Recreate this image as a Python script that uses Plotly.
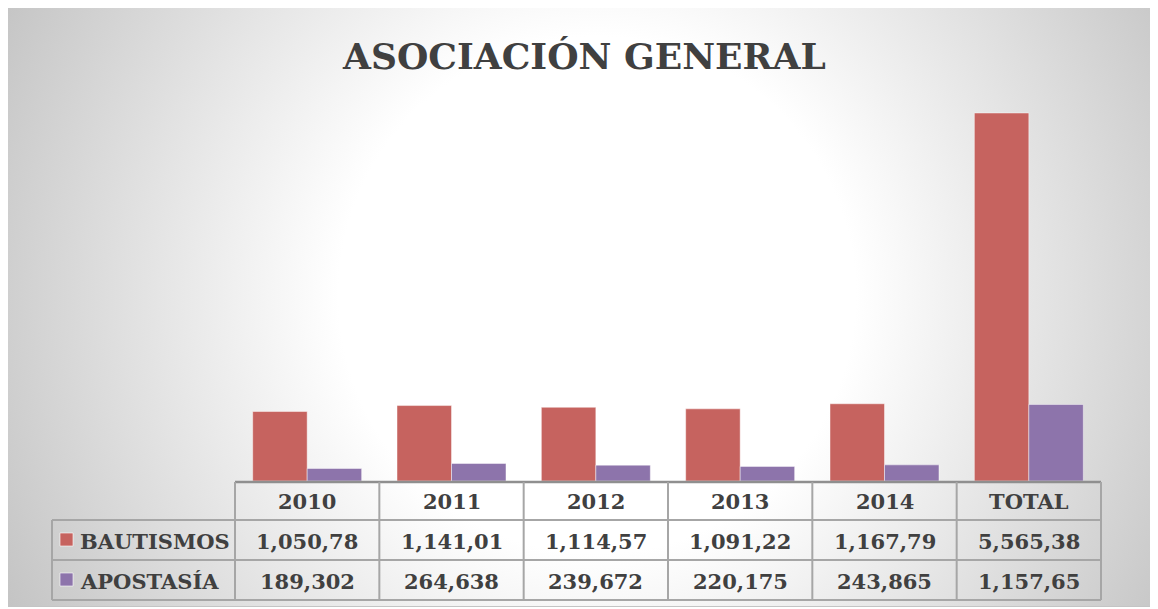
import base64
import plotly.graph_objects as go

# ---- data ----
categories = ["2010", "2011", "2012", "2013", "2014", "TOTAL"]
bautismos = [1050.78, 1141.01, 1114.57, 1091.22, 1167.79, 5565.38]
apostasia = [189.302, 264.638, 239.672, 220.175, 243.865, 1157.65]
bautismos_labels = ["1,050,78", "1,141,01", "1,114,57", "1,091,22", "1,167,79", "5,565,38"]
apostasia_labels = ["189,302", "264,638", "239,672", "220,175", "243,865", "1,157,65"]
series_names = ["BAUTISMOS", "APOSTASÍA"]
title_text = "ASOCIACIÓN GENERAL"

RED = "#C6635F"
PURPLE = "#8D74AB"
TXT = "#404040"
FONT = "DejaVu Serif"

OFF = 8  # page body margin
W, H = 1158 - OFF, 609 - OFF
L, R, T, B = 235, 1101, 100, 481  # plot area in page pixels

def px(x):
    return (x - L) / (R - L)

def py(y):
    return (B - y) / (B - T)

fig = go.Figure()
fig.add_trace(go.Bar(x=categories, y=bautismos, name=series_names[0],
                     marker=dict(color=RED, line=dict(color="rgba(255,255,255,0.45)", width=1))))
fig.add_trace(go.Bar(x=categories, y=apostasia, name=series_names[1],
                     marker=dict(color=PURPLE, line=dict(color="rgba(255,255,255,0.45)", width=1))))

# background radial gradient (as svg image)
bw, bh = 1151, 602
svg = (f'<svg xmlns="http://www.w3.org/2000/svg" width="{bw}" height="{bh}">'
       '<defs><radialGradient id="g" gradientUnits="userSpaceOnUse" cx="590" cy="290" r="680">'
       '<stop offset="0" stop-color="#ffffff"/><stop offset="0.38" stop-color="#ffffff"/>'
       '<stop offset="1" stop-color="#c2c2c2"/></radialGradient></defs>'
       f'<rect x="0.5" y="0.5" width="{bw-1}" height="{bh-1}" fill="url(#g)" stroke="#c4c4c4" stroke-width="1"/></svg>')
src = "data:image/svg+xml;base64," + base64.b64encode(svg.encode()).decode()
images = [dict(source=src, xref="paper", yref="paper", x=px(7), y=py(5),
               sizex=px(7 + bw) - px(7), sizey=py(5) - py(5 + bh),
               xanchor="left", yanchor="top", sizing="stretch", layer="below")]

shapes = []
LINE = dict(color="#a6a6a6", width=2)
col_edges = [L + i * (R - L) / len(categories) for i in range(len(categories) + 1)]
row_y = [482, 520, 560, 600]
shapes.append(dict(type="line", xref="paper", yref="paper", x0=px(L), x1=px(R), y0=py(482), y1=py(482),
                   line=dict(color="#8f8f8f", width=2.5)))
for yy in row_y[1:]:
    shapes.append(dict(type="line", xref="paper", yref="paper", x0=px(52), x1=px(R), y0=py(yy), y1=py(yy), line=LINE))
for xe in col_edges:
    shapes.append(dict(type="line", xref="paper", yref="paper", x0=px(xe), x1=px(xe), y0=py(482), y1=py(600), line=LINE))
shapes.append(dict(type="line", xref="paper", yref="paper", x0=px(52), x1=px(52), y0=py(520), y1=py(600), line=LINE))
for (y0, col) in [(533, RED), (573, PURPLE)]:
    shapes.append(dict(type="rect", xref="paper", yref="paper", x0=px(60), x1=px(73), y0=py(y0), y1=py(y0 + 13),
                       fillcolor=col, line=dict(color="rgba(255,255,255,0.6)", width=1)))

annotations = [dict(text=title_text, xref="paper", yref="paper", x=px(584), y=py(56), showarrow=False,
                    font=dict(family=FONT, size=36, color=TXT, weight="bold"), xanchor="center", yanchor="middle")]
for i, c in enumerate(categories):
    cx = px((col_edges[i] + col_edges[i + 1]) / 2)
    for yy, txt in [(501, c), (541, bautismos_labels[i]), (581, apostasia_labels[i])]:
        annotations.append(dict(text=txt, xref="paper", yref="paper", x=cx, y=py(yy), showarrow=False,
                                font=dict(family=FONT, size=21, color=TXT, weight="bold"),
                                xanchor="center", yanchor="middle"))
for yy, name in [(541, series_names[0]), (581, series_names[1])]:
    annotations.append(dict(text=name, xref="paper", yref="paper", x=px(78), y=py(yy), showarrow=False,
                            font=dict(family=FONT, size=21, color=TXT, weight="bold"),
                            xanchor="left", yanchor="middle"))

fig.update_layout(
    width=W, height=H,
    margin=dict(l=L - OFF, r=W - (R - OFF), t=T - OFF, b=H - (B - OFF), pad=0),
    paper_bgcolor="white", plot_bgcolor="rgba(0,0,0,0)",
    barmode="group", bargap=0.245, bargroupgap=0,
    showlegend=False,
    xaxis=dict(showticklabels=False, showgrid=False, zeroline=False, showline=False, ticks=""),
    yaxis=dict(visible=False, range=[0, 5762], showgrid=False, zeroline=False),
    images=images, shapes=shapes, annotations=annotations,
)
fig.write_html("out.html")
